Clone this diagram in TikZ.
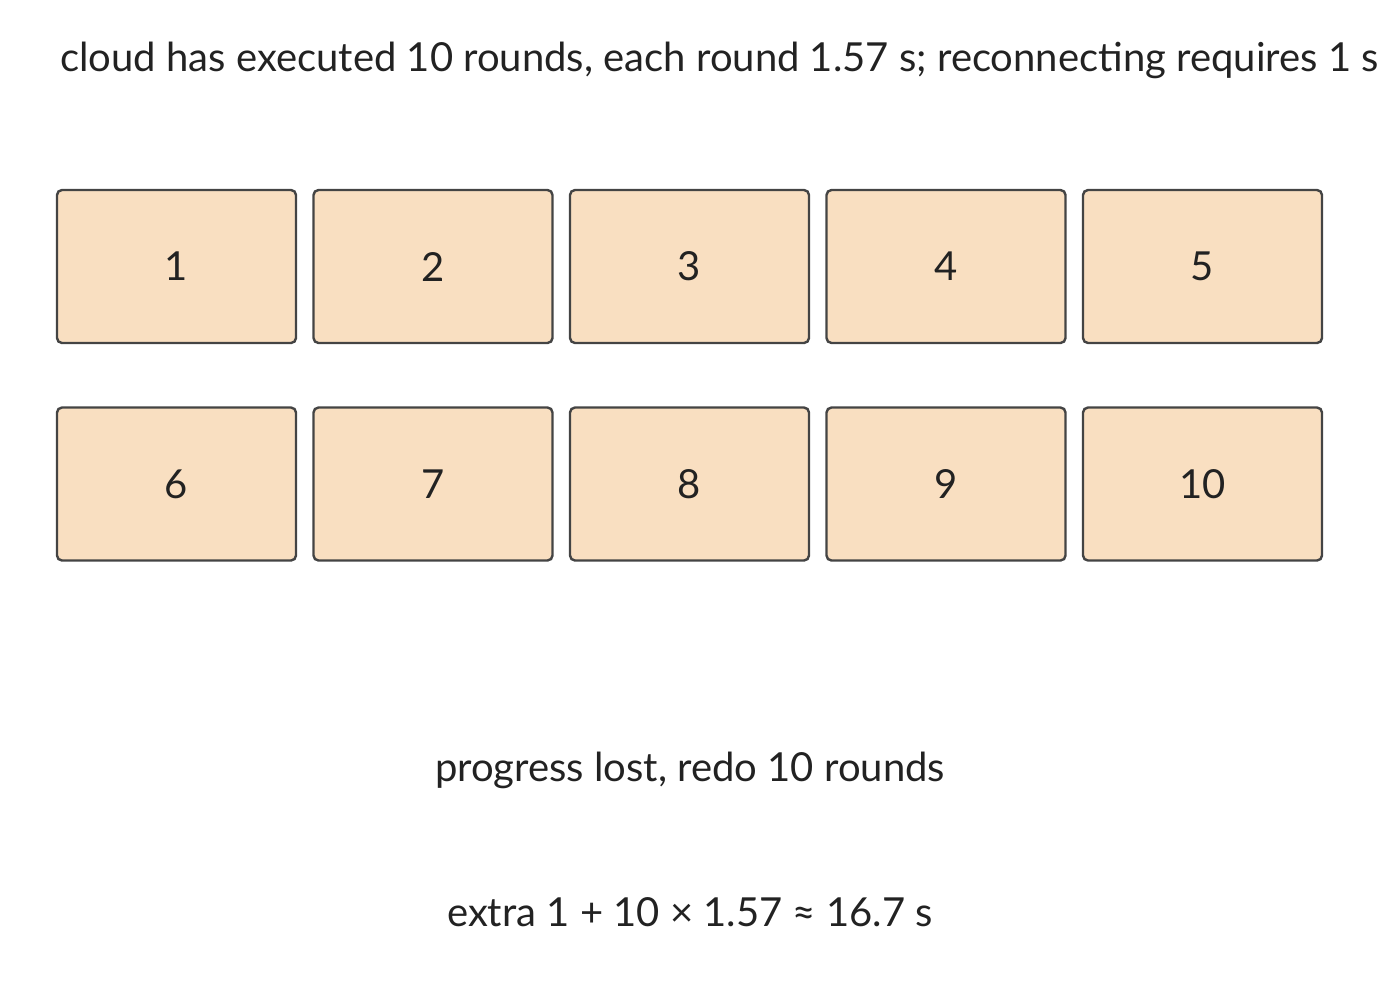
\documentclass[tikz,border=0pt]{standalone}
\usepackage{fontspec}
\setmainfont{Lato}
\definecolor{roundcol}{HTML}{F9DFC1}
\definecolor{edgecol}{HTML}{444444}
\definecolor{textcol}{HTML}{222222}
\begin{document}
\begin{tikzpicture}[x=0.5pt,y=-0.5pt,
    roundbox/.style={draw=edgecol,fill=roundcol,line width=1.2pt,rounded corners=2.5pt,
      minimum width=119.5pt,minimum height=76.5pt,inner sep=0pt,
      font=\fontsize{20}{24}\selectfont,text=textcol},
    caption/.style={font=\fontsize{20}{24}\selectfont,text=textcol,inner sep=0pt}]
 \useasboundingbox[clip] (0,0) rectangle (1400,998);

 \node[caption,anchor=west] (head) at (60,60)
   {cloud has executed 10 rounds, each round 1.57 s; reconnecting requires 1 s};

 % two rows of five rounds
 \foreach \i in {1,...,5}{
   \node[roundbox] (b\i) at ({176.5+(\i-1)*256.5},266.5) {\i};
 }
 \foreach \i [evaluate=\i as \j using int(\i+5)] in {1,...,5}{
   \node[roundbox] (b\j) at ({176.5+(\i-1)*256.5},484) {\j};
 }

 \node[caption] (lost) at (690,770) {progress lost, redo 10 rounds};
 \node[caption] (cost) at (690,912) {extra 1 + 10 × 1.57 ≈ 16.7 s};
\end{tikzpicture}
\end{document}
